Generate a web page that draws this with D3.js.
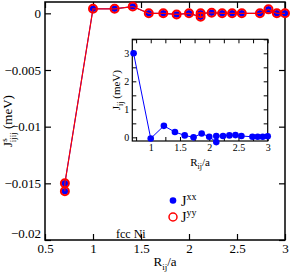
<!DOCTYPE html>
<html>
<head>
<meta charset="utf-8">
<script src="https://cdn.jsdelivr.net/npm/d3@7"></script>
<style>
  body { margin: 0; background: #fff; }
  svg { display: block; font-family: "Liberation Serif", "DejaVu Serif", serif; }
</style>
</head>
<body>
<svg id="chart" width="291" height="278"></svg>
<script>
// fcc neighbour shells R_ij/a (some shells carry two values)
const shellR = [0.707, 0.707, 1, 1.225, 1.414, 1.581, 1.732, 1.871, 2, 2.121, 2.121,
    2.236, 2.345, 2.449, 2.550, 2.739, 2.828, 2.915, 3];
const jxxMain = [-0.0157, -0.0150, 0.0004, 0.0004, 0.0006, 0.0000, 0.0000, -0.0001, 0.0000,
    -0.0003, 0.0000, 0.00005, 0.0000, 0.0000, 0.0000, 0.0000, 0.00035, 0.0000, 0.0000];
const jyyMain = [-0.0157, -0.0150, 0.0004, 0.0004, 0.0006, 0.0000, 0.0000, -0.0001, 0.0000,
    -0.0003, 0.0000, 0.00005, 0.0000, 0.0000, 0.0000, 0.0000, 0.00035, 0.0000, 0.0000];

// inset: isotropic J_ij in meV
const insetR = [0.707, 1, 1.225, 1.414, 1.581, 1.732, 1.871, 2, 2.121, 2.121,
    2.236, 2.345, 2.449, 2.550, 2.739, 2.828, 2.915, 3];
const insetJ = [3.0, -0.04, 0.41, 0.19, 0.07, 0.0, 0.14, 0.02, -0.17, 0.05,
    0.05, 0.07, 0.08, 0.05, 0.02, 0.02, 0.02, 0.04];

const mainXTicks = [0.5, 1, 1.5, 2, 2.5, 3];
const mainYTicks = [0, -0.005, -0.01, -0.015, -0.02];
const insetXTicks = [1, 1.5, 2, 2.5, 3];
const insetXMinor = d3.range(0.75, 3.01, 0.25);
const insetYTicks = [0, 1, 2, 3];
const insetYMinor = d3.range(0, 3.51, 0.5);

const svg = d3.select("#chart");

// ---------- main panel ----------
const m = { left: 45, right: 285, top: 2, bottom: 240 };
const x = d3.scaleLinear().domain([0.5, 3]).range([m.left, m.right]);
const y = d3.scaleLinear().domain([-0.02, 0.001]).range([m.bottom, m.top]);

const main = svg.append("g");

main.append("g")
    .attr("transform", `translate(0,${m.bottom})`)
    .call(d3.axisBottom(x).tickValues(mainXTicks).tickSize(-6).tickPadding(4)
        .tickFormat(d3.format("")));
main.append("g")
    .attr("transform", `translate(0,${m.top})`)
    .call(d3.axisTop(x).tickValues(mainXTicks).tickSize(-6).tickFormat(""));
main.append("g")
    .attr("transform", `translate(${m.left},0)`)
    .call(d3.axisLeft(y).tickValues(mainYTicks).tickSize(-6).tickPadding(4)
        .tickFormat(d => d === 0 ? "0" : d3.format("")(d)));
main.append("g")
    .attr("transform", `translate(${m.right},0)`)
    .call(d3.axisRight(y).tickValues(mainYTicks).tickSize(-6).tickFormat(""));

main.selectAll(".domain").remove();
main.selectAll(".tick line").attr("stroke", "#000").attr("stroke-width", 1.2);
main.selectAll(".tick text")
    .attr("font-family", "Liberation Serif").attr("font-size", 13).attr("fill", "#000");
// lowest y label sits a little higher, as in the original
main.selectAll(".tick text").filter(d => d === -0.02).attr("dy", "-0.2em");

main.append("rect")
    .attr("x", m.left).attr("y", m.top)
    .attr("width", m.right - m.left).attr("height", m.bottom - m.top)
    .attr("fill", "none").attr("stroke", "#000").attr("stroke-width", 1.5);

const mainLine = d3.line().x(d => x(d[0])).y(d => y(d[1]));
const xxPts = shellR.map((r, i) => [r, jxxMain[i]]);
const yyPts = shellR.map((r, i) => [r, jyyMain[i]]);

main.append("path").datum(xxPts)
    .attr("d", mainLine).attr("fill", "none").attr("stroke", "#0000ff").attr("stroke-width", 1);
main.selectAll(".dot-xx").data(xxPts).enter().append("circle")
    .attr("class", "dot-xx")
    .attr("cx", d => x(d[0])).attr("cy", d => y(d[1]))
    .attr("r", 3.3).attr("fill", "#0000ff");
main.selectAll(".dot-yy").data(yyPts).enter().append("circle")
    .attr("class", "dot-yy")
    .attr("cx", d => x(d[0])).attr("cy", d => y(d[1]))
    .attr("r", 4).attr("fill", "none").attr("stroke", "#ff0000").attr("stroke-width", 2);
main.append("path").datum(yyPts)
    .attr("d", mainLine).attr("fill", "none").attr("stroke", "#ff0000").attr("stroke-width", 1.2);

// axis titles
const xt = main.append("text")
    .attr("x", (m.left + m.right) / 2).attr("y", 266)
    .attr("text-anchor", "middle").attr("font-size", 13);
xt.append("tspan").text("R");
xt.append("tspan").attr("font-size", 9).attr("dy", 4).text("ij");
xt.append("tspan").attr("dy", -4).text("/a");

const yt = main.append("text")
    .attr("transform", `translate(12,${(m.top + m.bottom) / 2}) rotate(-90)`)
    .attr("text-anchor", "middle").attr("font-size", 13);
yt.append("tspan").text("J");
yt.append("tspan").attr("font-size", 9).attr("dy", -5).text("s");
yt.append("tspan").attr("font-size", 9).attr("dx", -4).attr("dy", 9).text("ijij");
yt.append("tspan").attr("dy", -4).text(" (meV)");

// legend
const lg = main.append("g");
lg.append("circle").attr("cx", 173).attr("cy", 200.5).attr("r", 3.3).attr("fill", "#0000ff");
lg.append("circle").attr("cx", 173).attr("cy", 217).attr("r", 4)
    .attr("fill", "none").attr("stroke", "#ff0000").attr("stroke-width", 1.5);
const l1 = lg.append("text").attr("x", 181).attr("y", 205.5).attr("font-size", 14);
l1.append("tspan").text("J");
l1.append("tspan").attr("font-size", 10).attr("dy", -6).text("xx");
const l2 = lg.append("text").attr("x", 181).attr("y", 222).attr("font-size", 14);
l2.append("tspan").text("J");
l2.append("tspan").attr("font-size", 10).attr("dy", -6).text("yy");
lg.append("text").attr("x", 116).attr("y", 238).attr("font-size", 12).text("fcc Ni");

// ---------- inset ----------
const n = { left: 132.3, right: 267.7, top: 39.3, bottom: 141 };
const ix = d3.scaleLinear().domain([0.685, 3]).range([n.left, n.right]);
const iy = d3.scaleLinear().domain([-0.13, 3.5]).range([n.bottom, n.top]);

const inset = svg.append("g");
inset.append("rect")
    .attr("x", n.left).attr("y", n.top)
    .attr("width", n.right - n.left).attr("height", n.bottom - n.top)
    .attr("fill", "#fff");

inset.append("g")
    .attr("transform", `translate(0,${n.bottom})`)
    .call(d3.axisBottom(ix).tickValues(insetXMinor).tickSize(-4).tickPadding(3)
        .tickFormat(d => insetXTicks.some(t => Math.abs(t - d) < 1e-6) ? d3.format("")(+d.toFixed(2)) : ""));
inset.append("g")
    .attr("transform", `translate(0,${n.top})`)
    .call(d3.axisTop(ix).tickValues(insetXMinor).tickSize(-4).tickFormat(""));
inset.append("g")
    .attr("transform", `translate(${n.left},0)`)
    .call(d3.axisLeft(iy).tickValues(insetYMinor).tickSize(-4).tickPadding(3)
        .tickFormat(d => insetYTicks.includes(d) ? d : ""));
inset.append("g")
    .attr("transform", `translate(${n.right},0)`)
    .call(d3.axisRight(iy).tickValues(insetYMinor).tickSize(-4).tickFormat(""));

inset.selectAll(".domain").remove();
inset.selectAll(".tick line").attr("stroke", "#000").attr("stroke-width", 1);
inset.selectAll(".tick text")
    .attr("font-family", "Liberation Serif").attr("font-size", 10).attr("fill", "#000");

inset.append("rect")
    .attr("x", n.left).attr("y", n.top)
    .attr("width", n.right - n.left).attr("height", n.bottom - n.top)
    .attr("fill", "none").attr("stroke", "#000").attr("stroke-width", 1.2);

const insetPts = insetR.map((r, i) => [r, insetJ[i]]);
inset.append("path").datum(insetPts)
    .attr("d", d3.line().x(d => ix(d[0])).y(d => iy(d[1])))
    .attr("fill", "none").attr("stroke", "#0000ff").attr("stroke-width", 1);
inset.selectAll(".idot").data(insetPts).enter().append("circle")
    .attr("class", "idot")
    .attr("cx", d => ix(d[0])).attr("cy", d => iy(d[1]))
    .attr("r", 3.3).attr("fill", "#0000ff");

const ixt = inset.append("text")
    .attr("x", (n.left + n.right) / 2).attr("y", 166)
    .attr("text-anchor", "middle").attr("font-size", 11);
ixt.append("tspan").text("R");
ixt.append("tspan").attr("font-size", 8).attr("dy", 3).text("ij");
ixt.append("tspan").attr("dy", -3).text("/a");

const iyt = inset.append("text")
    .attr("transform", `translate(120,${(n.top + n.bottom) / 2}) rotate(-90)`)
    .attr("text-anchor", "middle").attr("font-size", 11);
iyt.append("tspan").text("J");
iyt.append("tspan").attr("font-size", 8).attr("dy", 3).text("ij");
iyt.append("tspan").attr("dy", -3).text(" (meV)");
</script>
</body>
</html>
